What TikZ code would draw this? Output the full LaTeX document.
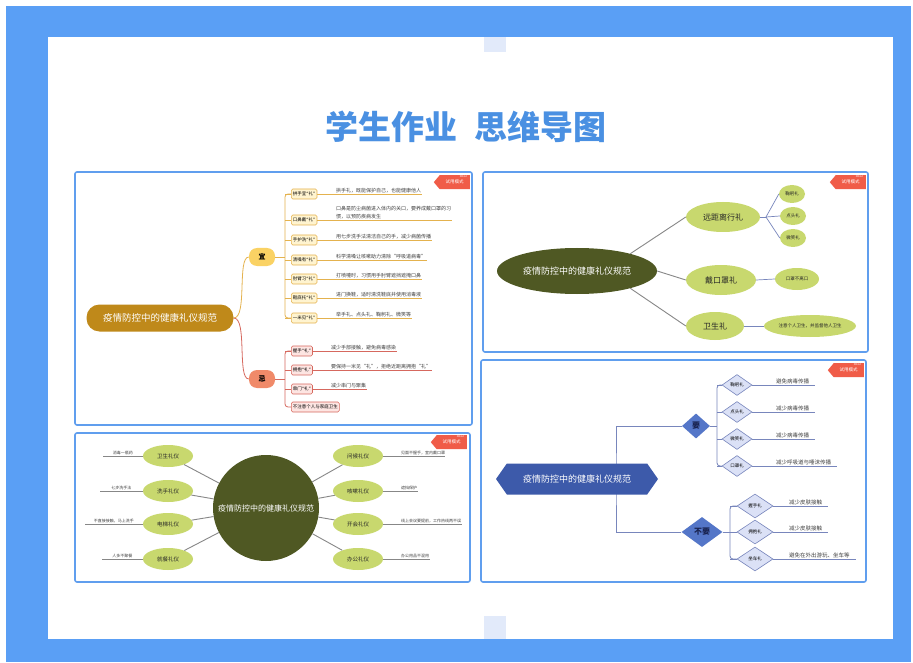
\documentclass[tikz,border=0pt]{standalone}
\usepackage{fontspec}
\setmainfont{Noto Sans CJK SC}
\newfontfamily\qfont{DejaVu Sans}
\usetikzlibrary{shapes.geometric,shapes.symbols}
\definecolor{pageblue}{RGB}{90,159,245}
\definecolor{panelblue}{RGB}{96,158,238}
\definecolor{titleblue}{RGB}{74,144,226}
\definecolor{decoblue}{RGB}{226,234,250}
\definecolor{gold}{RGB}{191,137,26}
\definecolor{yiyellow}{RGB}{250,210,100}
\definecolor{jisalmon}{RGB}{240,138,105}
\definecolor{yifill}{RGB}{255,244,208}
\definecolor{yiedge}{RGB}{228,178,78}
\definecolor{jifill}{RGB}{253,229,226}
\definecolor{jiedge}{RGB}{214,104,94}
\definecolor{olive}{RGB}{79,88,35}
\definecolor{leaf}{RGB}{200,216,110}
\definecolor{greyline}{RGB}{135,135,135}
\definecolor{hexblue}{RGB}{61,90,170}
\definecolor{diablue}{RGB}{84,118,200}
\definecolor{dialight}{RGB}{219,225,246}
\definecolor{diaedge}{RGB}{120,134,188}
\definecolor{navytext}{RGB}{25,35,80}
\definecolor{tagred}{RGB}{240,92,72}
\newcommand{\fsz}[1]{\fontsize{#1}{#1}\selectfont}
\newcommand{\li}{{\qfont “}礼{\qfont ”}}
\tikzset{
  panel/.style={draw=panelblue, line width=1.6pt, fill=white, rounded corners=2pt},
  title/.style={font=\bfseries\fsz{33}, text=titleblue},
  root pill/.style={fill=gold, text=white, rounded corners=13pt, minimum width=147pt,
    minimum height=27pt, font=\fsz{9.5}},
  yi node/.style={fill=yiyellow, rounded corners=8pt, minimum width=26pt, minimum height=18pt,
    font=\bfseries\fsz{7}, inner sep=0pt},
  ji node/.style={yi node, fill=jisalmon},
  yi line/.style={draw=yiedge, line width=0.8pt},
  ji line/.style={draw=jiedge, line width=0.8pt},
  yi box/.style={draw=yiedge, fill=yifill, rounded corners=1.5pt, anchor=west, font=\fsz{4.5},
    inner sep=1.5pt, minimum height=10pt, line width=0.6pt},
  ji box/.style={yi box, draw=jiedge, fill=jifill},
  desc/.style={font=\fontsize{5}{8}\selectfont, inner sep=1pt, align=left, text=black!75},
  olive ell/.style={ellipse, fill=olive, text=white, inner sep=0pt, font=\fsz{9}},
  leaf ell/.style={ellipse, fill=leaf, text=black!85, inner sep=0pt},
  grey line/.style={draw=greyline, line width=0.9pt},
  fan line/.style={draw=diaedge, line width=0.7pt},
  note/.style={font=\fsz{4}, inner sep=1pt, text=black!75},
  hex root/.style={signal, signal to=east and west, signal pointer angle=110, fill=hexblue,
    text=white, font=\fsz{9}, minimum width=162pt, minimum height=31pt, inner sep=2pt},
  big dia/.style={diamond, fill=diablue, text=navytext, font=\bfseries\fsz{8}, inner sep=0pt},
  small dia/.style={diamond, draw=diaedge, fill=dialight, font=\fsz{4.5}, inner sep=0pt,
    line width=0.6pt},
  bracket/.style={draw=diaedge, line width=0.8pt},
  trial tag/.style={signal, signal to=west, signal pointer angle=100, fill=tagred, text=white,
    font=\fsz{4.5}, minimum width=36pt, minimum height=14pt, inner sep=1pt, anchor=north east},
  xmind mark/.style={anchor=north east, font=\fsz{2.5}, text=white, inner sep=0.8pt, xshift=-2pt}
}
\newcommand{\trialtag}[2]{%
  \node[trial tag] (#1) at (#2) {试用模式};
  \node[xmind mark] at (#1.north east) {XMind};
}
\begin{document}
\begin{tikzpicture}[x=1pt,y=-1pt]
\useasboundingbox (0,0) rectangle (913,663);
% page and card
\fill[pageblue] (6,6) rectangle (911,662);
\fill[white] (48,37) rectangle (893,639);
\fill[decoblue] (484,37) rectangle (506,52);
\fill[decoblue] (484,616) rectangle (506,639);
\node[title] (title) at (466,127) {学生作业\hspace{18pt}思维导图};
% panels
\draw[panel] (75,172) rectangle (472,425);
\draw[panel] (483,172) rectangle (868,352);
\draw[panel] (75,433) rectangle (470,582);
\draw[panel] (481,360) rectangle (866,582);

% top left: 宜 / 忌
\node[root pill] (tlroot) at (160,318) {疫情防控中的健康礼仪规范};
\node[yi node] (yi) at (262,257) {宜};
\node[ji node] (ji) at (262,379) {忌};
\draw[yi line] (tlroot.east) .. controls +(14,0) and +(-12,0) .. (yi.west);
\draw[ji line] (tlroot.east) .. controls +(14,0) and +(-12,0) .. (ji.west);
\coordinate (yibar) at (285,257);
\coordinate (jibar) at (285,379);
\foreach \i/\y/\lab/\txt in {1/194/拱手宜\li/拱手礼，既能保护自己，也能健康他人,
    2/220/口鼻戴\li/{口鼻是防尘病菌进入体内的关口，要养成戴口罩的习\\惯，以预防疾病发生},
    3/240/手护洗\li/用七步洗手法清洁自己的手，减少病菌传播,
    4/260/清嗓有\li/科学清嗓让咳嗽助力清除“呼吸道病毒”,
    5/279/肘臂习\li/打喷嚏时，习惯用手肘臂遮挡遮掩口鼻,
    6/298/鞋底托\li/进门换鞋，适时清洗鞋底并使用消毒液,
    7/318/一米见\li/举手礼、点头礼、鞠躬礼、微笑等}
{
    \node[yi box] (yibox\i) at (291,\y) {\lab};
    \node[desc, anchor=south west] (yitxt\i) at (335,\y) {\txt};
    \draw[yi line] (yibox\i.east) -- (yitxt\i.south east);
    \draw[yi line] (yibar |- yibox\i.west) -- (yibox\i.west);
}
\draw[yi line] (yi.east) -- (yibar);
\draw[yi line, rounded corners=3pt] (yibox1.west) -| (yibar) |- (yibox7.west);
\foreach \i/\y/\lab/\txt in {1/351/握手\li/减少手部接触，避免病毒感染,
    2/370/拥抱\li/要保持一米见“礼”，拒绝近距离拥抱“礼”,
    3/389/串门\li/减少串门与聚集}
{
    \node[ji box] (jibox\i) at (291,\y) {\lab};
    \node[desc, anchor=south west] (jitxt\i) at (330,\y) {\txt};
    \draw[ji line] (jibox\i.east) -- (jitxt\i.south east);
    \draw[ji line] (jibar |- jibox\i.west) -- (jibox\i.west);
}
\node[ji box] (jibox4) at (291,407) {不注意个人与家庭卫生};
\draw[ji line] (ji.east) -- (jibar);
\draw[ji line, rounded corners=3pt] (jibox1.west) -| (jibar) |- (jibox4.west);
\trialtag{tltag}{470,175}

% top right
\node[olive ell, minimum width=160pt, minimum height=46pt] (trroot) at (577,271) {疫情防控中的健康礼仪规范};
\node[leaf ell, minimum width=74pt, minimum height=30pt, font=\fsz{8}] (far) at (723,217) {远距离行礼};
\node[leaf ell, minimum width=70pt, minimum height=30pt, font=\fsz{8}] (mask) at (721,280) {戴口罩礼};
\node[leaf ell, minimum width=58pt, minimum height=28pt, font=\fsz{8}] (hyg) at (715,326) {卫生礼};
\node[leaf ell, minimum width=26pt, minimum height=18pt, font=\fsz{4.5}] (bow) at (792,194) {鞠躬礼};
\node[leaf ell, minimum width=26pt, minimum height=18pt, font=\fsz{4.5}] (nod) at (793,216) {点头礼};
\node[leaf ell, minimum width=26pt, minimum height=18pt, font=\fsz{4.5}] (smile) at (793,238) {微笑礼};
\node[leaf ell, minimum width=44pt, minimum height=22pt, font=\fsz{4.5}] (maskd) at (797,279) {口罩不离口};
\node[leaf ell, minimum width=92pt, minimum height=22pt, font=\fsz{4.5}] (hygd) at (810,326) {注意个人卫生，并监督他人卫生};
\draw[grey line] (trroot.18) -- (far.west);
\draw[grey line] (trroot.east) -- (mask.west);
\draw[grey line] (trroot.-18) -- (hyg.west);
\coordinate (farfan) at (766,217);
\draw[fan line] (far.east) -- (farfan);
\foreach \s in {bow,nod,smile}
    \draw[fan line] (farfan) -- (\s.west);
\draw[fan line] (mask.east) -- (maskd.west);
\draw[fan line] (hyg.east) -- (hygd.west);
\trialtag{trtag}{866,175}

% bottom left
\node[circle, fill=olive, text=white, minimum size=106pt, inner sep=0pt, font=\fsz{8}] (blroot) at (266,508) {疫情防控中的健康礼仪规范};
\foreach \i/\y/\lab/\txt/\xe in {1/456/卫生礼仪/消毒一瓶药/103, 2/491/洗手礼仪/七步洗手法/100,
    3/524/电梯礼仪/不直接接触，马上洗手/85, 4/559/就餐礼仪/人多不聚餐/102}
{
    \node[leaf ell, minimum width=50pt, minimum height=22pt, font=\fsz{5.5}] (bll\i) at (168,\y) {\lab};
    \coordinate (bllx\i) at (\xe,\y);
    \draw[grey line] (bll\i) -- (blroot);
    \draw[draw=greyline, line width=0.6pt] (bll\i.west) -- (bllx\i) node[midway, above, note] {\txt};
}
\foreach \i/\y/\lab/\txt/\xe in {1/456/问候礼仪/见面不握手，室内戴口罩/445, 2/491/咳嗽礼仪/遮挡保护/418,
    3/524/开会礼仪/线上会议要提前，工作热线两不误/462, 4/559/办公礼仪/办公用品不混用/430}
{
    \node[leaf ell, minimum width=50pt, minimum height=22pt, font=\fsz{5.5}] (blr\i) at (358,\y) {\lab};
    \coordinate (blrx\i) at (\xe,\y);
    \draw[grey line] (blr\i) -- (blroot);
    \draw[draw=greyline, line width=0.6pt] (blr\i.east) -- (blrx\i);
    \node[note, anchor=south west] (blrt\i) at (400,\y) {\txt};
}
\trialtag{bltag}{467,435}

% bottom right
\node[big dia, minimum width=28pt, minimum height=25pt] (yao) at (696,426) {要};
\node[big dia, minimum width=41pt, minimum height=30pt] (buyao) at (702,532) {不要};
\coordinate (brbar) at (616,479);
\draw[bracket] (yao.west) -| (brbar) |- (buyao.west);
\node[hex root] (brroot) at (577,479) {疫情防控中的健康礼仪规范};
\coordinate (yaobar) at (717,426);
\coordinate (nobar) at (730,532);
\foreach \i/\y/\lab/\txt in {1/385/鞠躬礼/避免病毒传播, 2/412/点头礼/减少病毒传播,
    3/439/微笑礼/减少病毒传播, 4/466/口罩礼/减少呼吸道与唾沫传播}
{
    \node[small dia, minimum width=30pt, minimum height=21pt] (yaodia\i) at (737,\y) {\lab};
    \node[desc, font=\fsz{5.5}, anchor=south west] (yaotxt\i) at (775,\y) {\txt};
    \draw[bracket] (yaodia\i.east) -- ([xshift=5pt]yaotxt\i.south east);
    \draw[bracket] (yaobar |- yaodia\i.west) -- (yaodia\i.west);
}
\draw[bracket] (yao.east) -- (yaobar);
\draw[bracket, rounded corners=3pt] (yaodia1.west) -| (yaobar) |- (yaodia4.west);
\foreach \i/\y/\lab/\txt in {1/506/握手礼/减少皮肤接触, 2/532/拥抱礼/减少皮肤接触,
    3/559/坐车礼/避免在外出游玩、坐车等}
{
    \node[small dia, minimum width=36pt, minimum height=24pt] (nodia\i) at (755,\y) {\lab};
    \node[desc, font=\fsz{5.5}, anchor=south west] (notxt\i) at (788,\y) {\txt};
    \draw[bracket] (nodia\i.east) -- ([xshift=5pt]notxt\i.south east);
    \draw[bracket] (nobar |- nodia\i.west) -- (nodia\i.west);
}
\draw[bracket] (buyao.east) -- (nobar);
\draw[bracket, rounded corners=3pt] (nodia1.west) -| (nobar) |- (nodia3.west);
\trialtag{brtag}{864,363}
\end{tikzpicture}
\end{document}
